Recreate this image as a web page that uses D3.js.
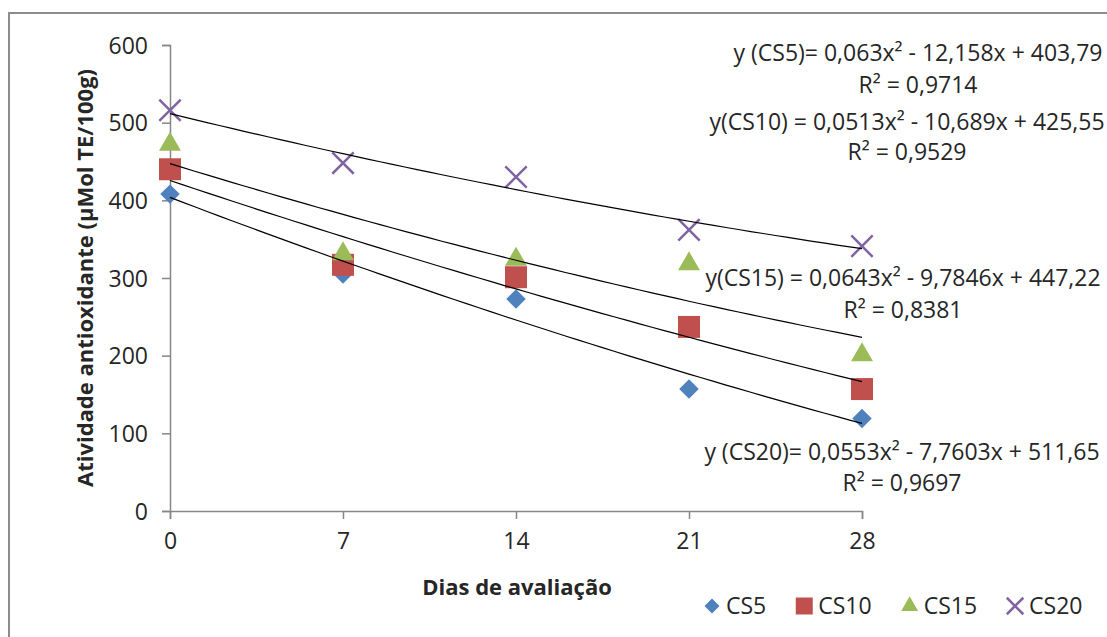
<!DOCTYPE html>
<html>
<head>
<meta charset="utf-8">
<script src="https://cdn.jsdelivr.net/npm/d3@7"></script>
<style>
  body { margin: 0; background: #fff; }
  svg text { font-family: "Open Sans", sans-serif; fill: #262626; }
</style>
</head>
<body>
<div id="chart"></div>
<script>
// Antioxidant activity over storage days

// data
var days = [0, 7, 14, 21, 28];
var seriesNames = ["CS5", "CS10", "CS15", "CS20"];
var cs5 = [408, 305, 273, 157, 119];
var cs10 = [440, 317, 301, 237, 157];
var cs15 = [472, 331, 324, 318, 201];
var cs20 = [516, 448, 430, 362, 341];
var yTicks = [0, 100, 200, 300, 400, 500, 600];

// trendline coefficients (a, b, c) as printed on the chart
var trendCoefs = [
    [0.063, -12.158, 403.79],
    [0.0513, -10.689, 425.55],
    [0.0643, -9.7846, 447.22],
    [0.0553, -7.7603, 511.65]
];
var eqLabels = [
    "y (CS5)= 0,063x\u00b2 - 12,158x + 403,79",
    "y(CS10) = 0,0513x\u00b2 - 10,689x + 425,55",
    "y(CS15) = 0,0643x\u00b2 - 9,7846x + 447,22",
    "y (CS20)= 0,0553x\u00b2 - 7,7603x + 511,65"
];
var r2Labels = ["R\u00b2 = 0,9714", "R\u00b2 = 0,9529", "R\u00b2 = 0,8381", "R\u00b2 = 0,9697"];

var allValues = [cs5, cs10, cs15, cs20];
var colors = ["#4F81BD", "#C0504D", "#9BBB59", "#8064A2"];
var shapes = ["diamond", "square", "triangle", "cross"];

var svgWidth = 1107, svgHeight = 637;
var margin = {top: 45, left: 170};
var width = 692, height = 466;
var fontSize = "23px";

var svg = d3.select("#chart")
    .append("svg")
    .attr("width", svgWidth)
    .attr("height", svgHeight);

// chart area border (cut off at right and bottom)
svg.append("rect")
    .attr("x", 9).attr("y", 13)
    .attr("width", 1200).attr("height", 700)
    .attr("fill", "none")
    .attr("stroke", "#8c8c8c")
    .attr("stroke-width", 2);

var g = svg.append("g")
    .attr("transform", "translate(" + margin.left + "," + margin.top + ")");

var xScale = d3.scaleLinear().domain([0, 28]).range([0, width]);
var yScale = d3.scaleLinear().domain([0, 600]).range([height, 0]);

var axisColor = "#868686";

var yAxis = g.append("g")
    .call(d3.axisLeft(yScale).tickValues(yTicks).tickSize(8).tickPadding(14).tickFormat(d3.format("d")));
var xAxis = g.append("g")
    .attr("transform", "translate(0," + height + ")")
    .call(d3.axisBottom(xScale).tickValues(days).tickSize(8).tickPadding(14).tickFormat(d3.format("d")));

[xAxis, yAxis].forEach(function(a) {
    a.select(".domain").attr("stroke", axisColor).attr("stroke-width", 1.5);
    a.selectAll(".tick line").attr("stroke", axisColor).attr("stroke-width", 1.5);
    a.selectAll(".tick text")
        .attr("font-size", fontSize)
        .attr("font-family", "'Open Sans', sans-serif")
        .attr("fill", "#262626");
});
yAxis.selectAll(".tick text").attr("dy", "0.36em");

// marker symbols
function symbolPath(shape, s) {
    if (shape === "diamond") return d3.symbol().type(d3.symbolDiamond2).size(s * s * 0.5)();
    if (shape === "square") return d3.symbol().type(d3.symbolSquare).size(s * s)();
    if (shape === "triangle") return d3.symbol().type(d3.symbolTriangle).size(s * s * 0.43)();
    return d3.symbol().type(d3.symbolTimes).size(s * s * 0.62)();
}

function drawMarker(sel, i, s) {
    var p = sel.append("path").attr("d", symbolPath(shapes[i], s));
    if (shapes[i] === "cross") {
        p.attr("fill", "none").attr("stroke", colors[i]).attr("stroke-width", 2.5);
    } else {
        p.attr("fill", colors[i]);
    }
    return p;
}

allValues.forEach(function(vals, i) {
    var grp = g.append("g").attr("class", "series-" + seriesNames[i]);
    vals.forEach(function(v, j) {
        var m = grp.append("g")
            .attr("transform", "translate(" + xScale(days[j]) + "," + yScale(v) + ")");
        drawMarker(m, i, 22);
    });
});

// trendlines drawn above markers
var line = d3.line().x(d => xScale(d[0])).y(d => yScale(d[1]));
trendCoefs.forEach(function(c) {
    var pts = d3.range(0, 28.01, 0.5).map(function(x) {
        return [x, c[0] * x * x + c[1] * x + c[2]];
    });
    g.append("path")
        .attr("d", line(pts))
        .attr("fill", "none")
        .attr("stroke", "#000")
        .attr("stroke-width", 1.2);
});

// equation labels
var eqPos = [[918, 53, 85], [907, 122, 152], [903, 278, 310], [902, 452, 483]];
eqLabels.forEach(function(t, i) {
    svg.append("text")
        .attr("x", eqPos[i][0]).attr("y", eqPos[i][1])
        .attr("dy", "0.36em")
        .attr("text-anchor", "middle")
        .attr("font-size", fontSize)
        .text(t);
    svg.append("text")
        .attr("x", eqPos[i][0]).attr("y", eqPos[i][2])
        .attr("dy", "0.36em")
        .attr("text-anchor", "middle")
        .attr("font-size", fontSize)
        .text(r2Labels[i]);
});

// axis titles
svg.append("text")
    .attr("transform", "translate(85,278) rotate(-90)")
    .attr("text-anchor", "middle")
    .attr("dy", "0.36em")
    .attr("font-size", "22px")
    .attr("font-weight", "bold")
    .text("Atividade antioxidante (\u00b5Mol TE/100g)");

svg.append("text")
    .attr("x", 517).attr("y", 587)
    .attr("dy", "0.36em")
    .attr("text-anchor", "middle")
    .attr("font-size", "22px")
    .attr("font-weight", "bold")
    .text("Dias de avalia\u00e7\u00e3o");

// legend
var legend = svg.append("g");
var lx = 712, ly = 606;
seriesNames.forEach(function(name, i) {
    var item = legend.append("g").attr("transform", "translate(" + lx + "," + ly + ")");
    drawMarker(item, i, 17);
    var t = item.append("text")
        .attr("x", 14)
        .attr("dy", "0.36em")
        .attr("font-size", fontSize)
        .text(name);
    lx += 14 + t.node().getComputedTextLength() + 38;
});
</script>
</body>
</html>
